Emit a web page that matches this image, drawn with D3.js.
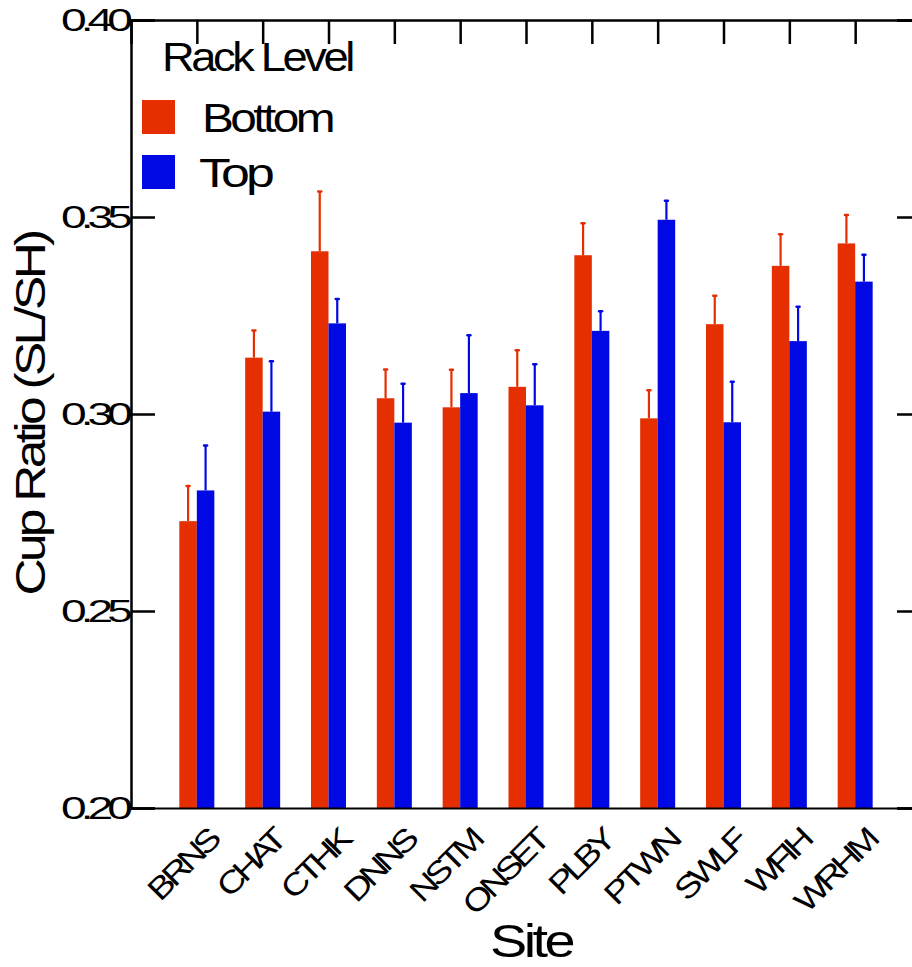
<!DOCTYPE html>
<html>
<head>
<meta charset="utf-8">
<script src="https://cdn.jsdelivr.net/npm/d3@7"></script>
<style>
  body { margin: 0; background: #fff; }
  text { font-family: "Liberation Sans", Arial, sans-serif; fill: #000; }
</style>
</head>
<body>
<svg id="fig" width="912" height="967"></svg>
<script>
var sites = ["BRNS", "CHAT", "CTHK", "DNNS", "NSTM", "ONSET", "PLBY", "PTWN", "SWLF", "WFIH", "WRHM"];
var levels = ["Bottom", "Top"];
var bottomMean = [0.2728, 0.3143, 0.3413, 0.3040, 0.3017, 0.3069, 0.3403, 0.2989, 0.3228, 0.3376, 0.3433];
var bottomErr  = [0.0089, 0.0069, 0.0152, 0.0073, 0.0095, 0.0093, 0.0081, 0.0071, 0.0072, 0.0080, 0.0072];
var topMean    = [0.2806, 0.3006, 0.3230, 0.2978, 0.3053, 0.3022, 0.3211, 0.3493, 0.2979, 0.3185, 0.3336];
var topErr     = [0.0114, 0.0128, 0.0062, 0.0099, 0.0147, 0.0104, 0.0050, 0.0048, 0.0103, 0.0087, 0.0068];
var yTicks = [0.20, 0.25, 0.30, 0.35, 0.40];

function makeChart() {
    var colors = {Bottom: "#e52f00", Top: "#0008e3"};

    var svg = d3.select("#fig");
    var pLeft = 131, pRight = 921, pTop = 20, pBottom = 808;

    var x = d3.scalePoint().domain(sites).range([pLeft, pRight]).padding(1);
    var xs = d3.scaleBand().domain(levels).range([-17.5, 17.5]);
    var y = d3.scaleLinear().domain([0.20, 0.40]).range([pBottom, pTop]);

    var rows = [];
    sites.forEach(function(s, i) {
        rows.push({site: s, level: "Bottom", mean: bottomMean[i], err: bottomErr[i]});
        rows.push({site: s, level: "Top", mean: topMean[i], err: topErr[i]});
    });
    var cx = d => x(d.site) + xs(d.level) + xs.bandwidth() / 2;

    // error bars (upper only)
    var eb = svg.append("g");
    eb.selectAll("line.e").data(rows).enter().append("line")
        .attr("class", "e")
        .attr("x1", cx).attr("x2", cx)
        .attr("y1", d => y(d.mean))
        .attr("y2", d => y(d.mean + d.err))
        .attr("stroke", d => colors[d.level])
        .attr("stroke-width", 2.2);
    eb.selectAll("line.c").data(rows).enter().append("line")
        .attr("class", "c")
        .attr("x1", d => cx(d) - 1.5)
        .attr("x2", d => cx(d) + 1.5)
        .attr("y1", d => y(d.mean + d.err))
        .attr("y2", d => y(d.mean + d.err))
        .attr("stroke", d => colors[d.level])
        .attr("stroke-width", 2.5)
        .attr("stroke-linecap", "round");

    // bars
    svg.append("g").selectAll("rect").data(rows).enter().append("rect")
        .attr("x", d => x(d.site) + xs(d.level))
        .attr("width", xs.bandwidth())
        .attr("y", d => y(d.mean))
        .attr("height", d => pBottom - y(d.mean))
        .attr("fill", d => colors[d.level]);

    // axes
    var axL = svg.append("g").attr("transform", "translate(" + pLeft + ",0)")
        .call(d3.axisRight(y).tickValues(yTicks).tickSize(24).tickFormat(""));
    var axR = svg.append("g").attr("transform", "translate(" + pRight + ",0)")
        .call(d3.axisLeft(y).tickValues(yTicks).tickSize(24).tickFormat(""));
    var axT = svg.append("g").attr("transform", "translate(0," + pTop + ")")
        .call(d3.axisBottom(x).tickSize(24).tickFormat(""));
    var axB = svg.append("g").attr("transform", "translate(0," + pBottom + ")")
        .call(d3.axisBottom(x).tickSize(0).tickFormat(""));
    [axL, axR, axT, axB].forEach(function(a) {
        a.select(".domain").attr("stroke", "#000").attr("stroke-width", 2.5);
        a.selectAll(".tick line").attr("stroke", "#000").attr("stroke-width", 2.5);
    });
    axB.select(".domain").attr("stroke-width", 2);

    // y tick labels
    svg.append("g").selectAll("text").data(yTicks).enter().append("text")
        .attr("x", 127)
        .attr("y", d => y(d) + 11)
        .attr("text-anchor", "end")
        .attr("font-size", 31)
        .attr("letter-spacing", -4)
        .attr("textLength", 66)
        .attr("lengthAdjust", "spacingAndGlyphs")
        .text(d => d.toFixed(2));

    // x category labels
    svg.append("g").selectAll("text").data(sites).enter().append("text")
        .attr("transform", d => "translate(" + (x(d) + 23) + ",843) rotate(-45) scale(1.2,1)")
        .attr("text-anchor", "end")
        .attr("font-size", 31)
        .attr("letter-spacing", -4)
        .text(d => d);

    // axis titles
    svg.append("text")
        .attr("transform", "translate(45,414) rotate(-90)")
        .attr("text-anchor", "middle")
        .attr("font-size", 42)
        .attr("letter-spacing", -3)
        .attr("textLength", 363)
        .attr("lengthAdjust", "spacingAndGlyphs")
        .text("Cup Ratio (SL/SH)");
    svg.append("text")
        .attr("x", 531).attr("y", 957)
        .attr("text-anchor", "middle")
        .attr("font-size", 47)
        .attr("letter-spacing", -3)
        .attr("textLength", 82)
        .attr("lengthAdjust", "spacingAndGlyphs")
        .text("Site");

    // legend
    var lg = svg.append("g");
    lg.append("text").attr("x", 162).attr("y", 71).attr("font-size", 40)
        .attr("letter-spacing", -3)
        .attr("textLength", 190).attr("lengthAdjust", "spacingAndGlyphs")
        .text("Rack Level");
    var li = lg.selectAll("g.item").data(levels).enter().append("g")
        .attr("transform", (d, i) => "translate(142," + (100 + i * 55) + ")");
    li.append("rect").attr("width", 33).attr("height", 34).attr("fill", d => colors[d]);
    li.append("text").attr("x", d => d == "Top" ? 57 : 60).attr("y", 32).attr("font-size", 40)
        .attr("letter-spacing", -3)
        .attr("textLength", d => d == "Top" ? 72 : 130).attr("lengthAdjust", "spacingAndGlyphs")
        .text(d => d);
}
makeChart();
</script>
</body>
</html>
